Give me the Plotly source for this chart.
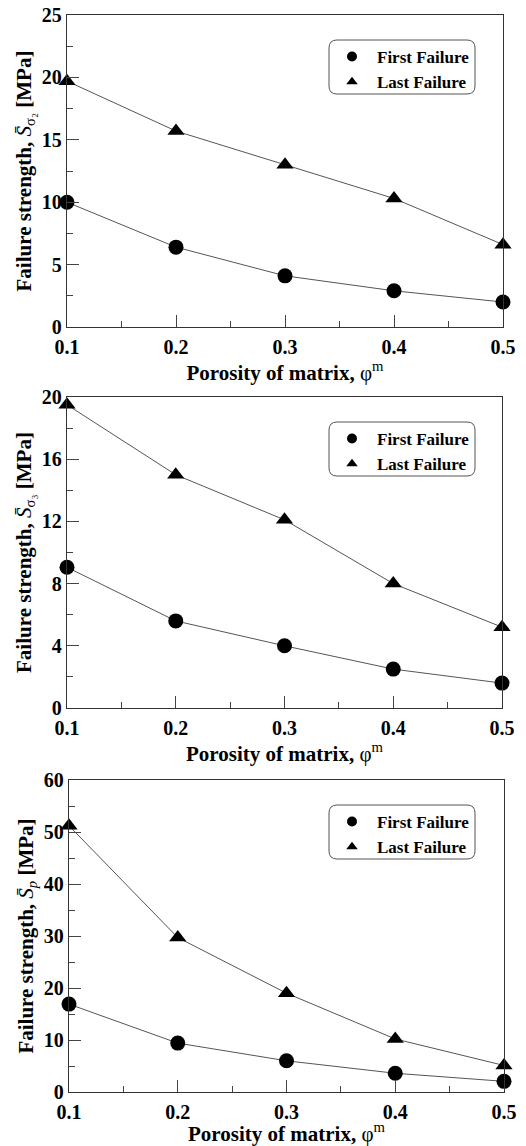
import plotly.graph_objects as go

porosity = [0.1, 0.2, 0.3, 0.4, 0.5]

s2_first = [10.0, 6.4, 4.1, 2.9, 2.0]
s2_last = [19.7, 15.7, 13.0, 10.3, 6.6]

s3_first = [9.05, 5.6, 4.0, 2.5, 1.6]
s3_last = [19.5, 15.0, 12.1, 8.0, 5.2]

sp_first = [16.9, 9.4, 6.0, 3.6, 2.05]
sp_last = [51.2, 29.7, 19.0, 10.2, 5.1]

series_names = ["<b>First Failure</b>", "<b>Last Failure</b>"]
y_titles = [
    "<b>Failure strength, </b><i>S\u0304</i><sub>\u03c3\u2082</sub><b> [MPa]</b>",
    "<b>Failure strength, </b><i>S\u0304</i><sub>\u03c3\u2083</sub><b> [MPa]</b>",
    "<b>Failure strength, </b><i>S\u0304</i><sub><i>p</i></sub><b> [MPa]</b>",
]
x_title = "<b>Porosity of matrix, </b>\u03c6<sup>m</sup>"
y_ranges = [[0, 25], [0, 20], [0, 60]]
y_dticks = [5, 4, 10]

W, H = 526, 1146
FONT = "Liberation Serif, Times New Roman, serif"

panels = [
    dict(first=s2_first, last=s2_last, px=(67, 503), py=(15, 327)),
    dict(first=s3_first, last=s3_last, px=(67, 502), py=(397, 708)),
    dict(first=sp_first, last=sp_last, px=(69, 504), py=(780, 1092)),
]

fig = go.Figure()
layout = dict(
    width=W, height=H,
    margin=dict(l=0, r=0, t=0, b=0, autoexpand=False),
    paper_bgcolor="white", plot_bgcolor="white",
    font=dict(family=FONT, color="black", size=19),
    shapes=[],
)

def rrect(x0, y0, x1, y1, r):
    def X(v):
        return v / W
    def Y(v):
        return 1 - v / H
    p = (f"M {X(x0+r)},{Y(y0)} L {X(x1-r)},{Y(y0)} Q {X(x1)},{Y(y0)} {X(x1)},{Y(y0+r)} "
         f"L {X(x1)},{Y(y1-r)} Q {X(x1)},{Y(y1)} {X(x1-r)},{Y(y1)} "
         f"L {X(x0+r)},{Y(y1)} Q {X(x0)},{Y(y1)} {X(x0)},{Y(y1-r)} "
         f"L {X(x0)},{Y(y0+r)} Q {X(x0)},{Y(y0)} {X(x0+r)},{Y(y0)} Z")
    return p

for i, p in enumerate(panels):
    n = "" if i == 0 else str(i + 1)
    xa, ya = "x" + n, "y" + n
    lg = "legend" + n
    for vals, sym, msize in [(p["first"], "circle", 15), (p["last"], "triangle-up", 15)]:
        fig.add_trace(go.Scatter(
            x=porosity, y=vals, mode="lines", xaxis=xa, yaxis=ya,
            line=dict(color="#555555", width=1), showlegend=False, cliponaxis=False))
        fig.add_trace(go.Scatter(
            x=porosity, y=vals, mode="markers", xaxis=xa, yaxis=ya,
            marker=dict(symbol=sym, size=msize, color="black"),
            showlegend=False, cliponaxis=False))
    for name, sym in zip(series_names, ["circle", "triangle-up"]):
        fig.add_trace(go.Scatter(
            x=[None], y=[None], mode="markers", xaxis=xa, yaxis=ya, name=name,
            marker=dict(symbol=sym, size=10, color="black"), legend=lg))

    x0, x1 = p["px"]
    y0, y1 = p["py"]
    axcommon = dict(
        showline=True, linecolor="#333333", linewidth=1.3, mirror=True,
        ticks="inside", ticklen=12, tickwidth=1, tickcolor="#444444",
        showgrid=False, zeroline=False, automargin=False,
        tickfont=dict(family=FONT, size=20, color="black"),
    )
    layout["xaxis" + n] = dict(
        axcommon, domain=[x0 / W, x1 / W], range=[0.1, 0.5], dtick=0.1, tick0=0.1,
        anchor=ya, tickprefix="<b>", ticksuffix="</b>", ticklabelstandoff=2,
        minor=dict(dtick=0.05, ticks="inside", ticklen=6, tickcolor="#444444", showgrid=False),
        title=dict(text=x_title, standoff=5, font=dict(family=FONT, size=21, color="black")),
    )
    layout["yaxis" + n] = dict(
        axcommon, domain=[1 - y1 / H, 1 - y0 / H], range=y_ranges[i], dtick=y_dticks[i],
        anchor=xa, tickprefix="<b>", ticksuffix="</b>",
        minor=dict(dtick=y_dticks[i] / 2, ticks="inside", ticklen=6, tickcolor="#444444", showgrid=False),
        title=dict(text=y_titles[i], standoff=4, font=dict(family=FONT, size=21, color="black")),
    )
    layout[lg] = dict(
        x=327 / W, y=1 - (y0 + 24) / H, xanchor="left", yanchor="top",
        bgcolor="rgba(0,0,0,0)", borderwidth=0, itemwidth=40,
        font=dict(family=FONT, size=17, color="black"),
        tracegroupgap=0, itemsizing="trace",
    )
    layout["shapes"].append(dict(
        type="path", xref="paper", yref="paper",
        path=rrect(329, y0 + 25, 475, y0 + 79, 8),
        line=dict(color="#555555", width=1), fillcolor="rgba(0,0,0,0)"))

fig.update_layout(**layout)
fig.write_html("out.html")
